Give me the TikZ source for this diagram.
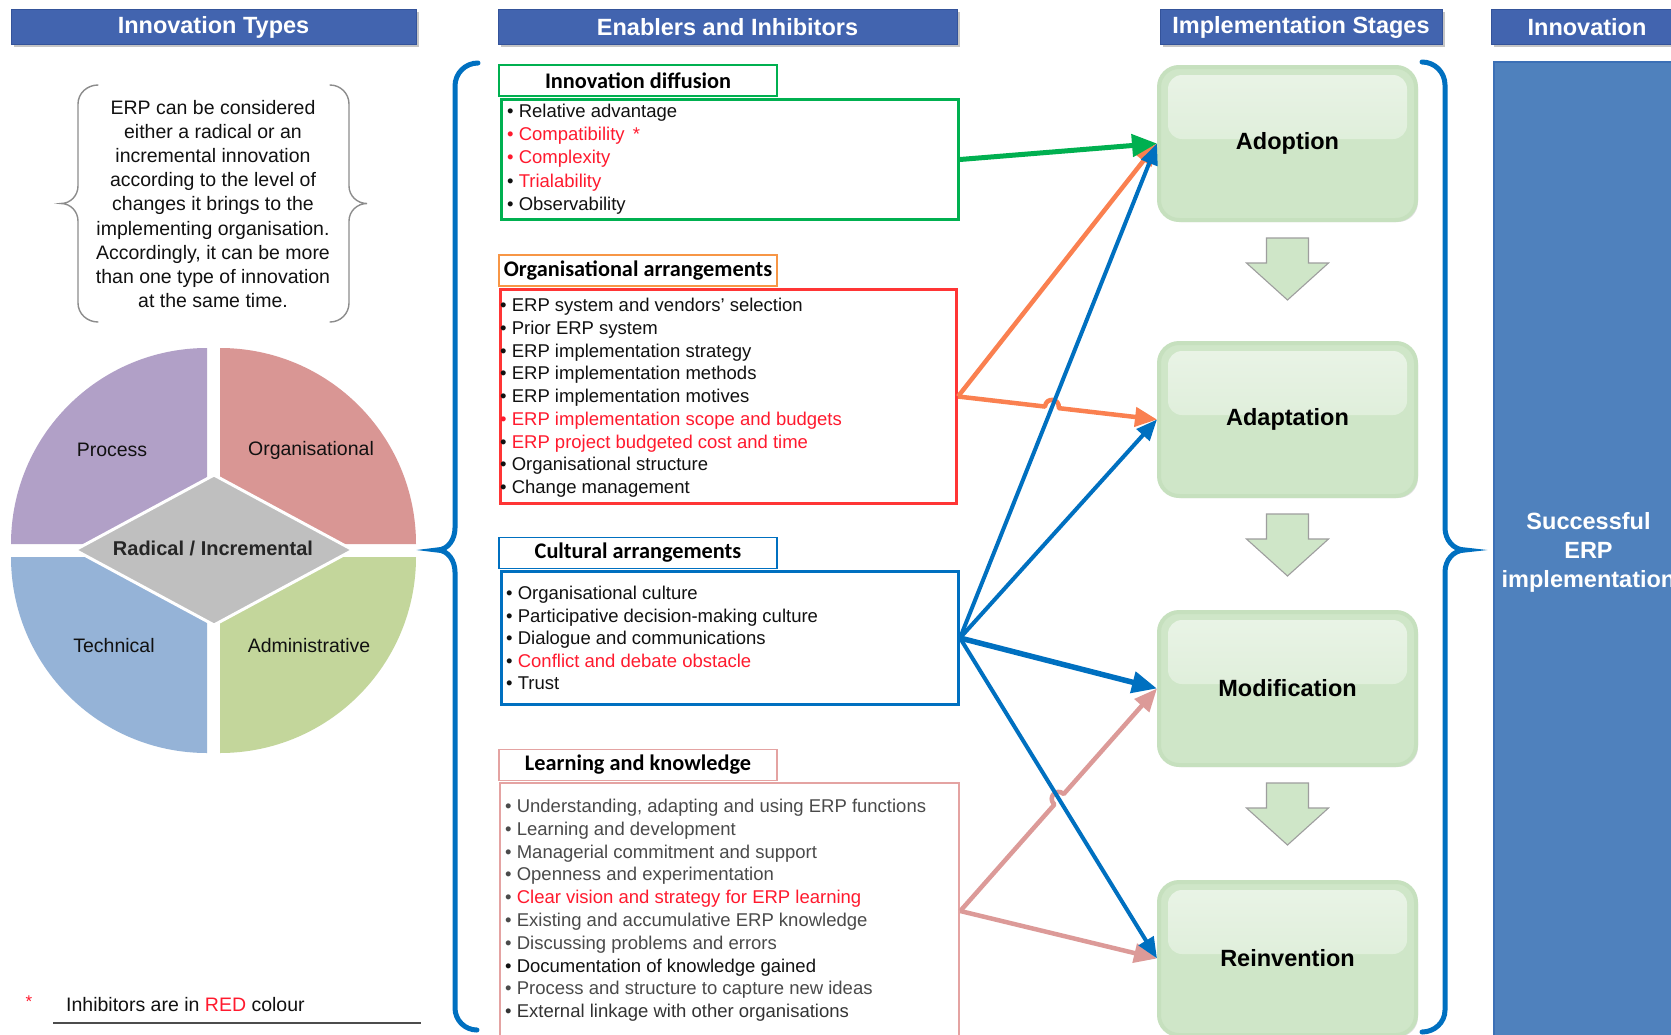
\documentclass[tikz,border=0pt]{standalone}
\usepackage{fontspec}
\setmainfont{Liberation Sans}
\newfontfamily\calfont{Carlito}
\usetikzlibrary{arrows.meta,calc,intersections,shadows}

\definecolor{hdblue}{HTML}{4264AF}
\definecolor{hdborder}{HTML}{34539A}
\definecolor{colblue}{HTML}{4F81BD}
\definecolor{colborder}{HTML}{3C70B6}
\definecolor{idgreen}{HTML}{00B050}
\definecolor{orgorange}{HTML}{F79646}
\definecolor{orgred}{HTML}{FF3535}
\definecolor{culblue}{HTML}{0070C0}
\definecolor{lrnpink}{HTML}{E4A3A2}
\definecolor{arrorange}{HTML}{FA8050}
\definecolor{arrpink}{HTML}{DC9A98}
\definecolor{inhred}{HTML}{FF1A2E}
\definecolor{txtgray}{HTML}{4A4A4A}
\definecolor{txtblack}{HTML}{111111}
\definecolor{stagefill}{HTML}{CFE6C8}
\definecolor{stageedge}{HTML}{C6E0BE}
\definecolor{stagegloss}{HTML}{EAF4E7}
\definecolor{stageglossend}{HTML}{D4E9CE}
\definecolor{pieprocess}{HTML}{B1A0C7}
\definecolor{pieorg}{HTML}{D99694}
\definecolor{pietech}{HTML}{95B3D7}
\definecolor{pieadmin}{HTML}{C3D69B}
\definecolor{piecentre}{HTML}{BFBFBF}

\begin{document}
\begin{tikzpicture}[x=1pt,y=-1pt,
  header/.style={draw=hdborder, line width=1pt, fill=hdblue, text=white,
    font=\fontsize{23.5pt}{28pt}\selectfont\bfseries, minimum height=35pt, inner sep=0pt,
    drop shadow={shadow xshift=2.5pt, shadow yshift=-2.5pt, fill=black!45, opacity=.5}},
  boxtitle/.style={fill=white, minimum width=278pt, minimum height=31pt, inner sep=0pt,
    line width=1.4pt, font=\calfont\bfseries\fontsize{22.3pt}{26pt}\selectfont},
  listbox/.style={line width=3pt, inner sep=0pt, fill=white},
  item/.style={anchor=base west, inner sep=0pt, text=txtblack,
    font=\fontsize{18.5pt}{22pt}\selectfont},
  grayitem/.style={item, text=txtgray},
  pielabel/.style={inner sep=0pt, text=txtblack, font=\fontsize{19.5pt}{23pt}\selectfont},
  stage/.style={rounded corners=20pt, fill=stagefill, draw=stageedge, line width=4pt,
    minimum width=257pt, minimum height=153pt, inner sep=0pt, text=black,
    font=\fontsize{23.5pt}{28pt}\selectfont\bfseries,
    drop shadow={shadow xshift=2pt, shadow yshift=-2pt, fill=black!20, opacity=.6},
    path picture={\shade[top color=stagegloss, bottom color=stageglossend,
      rounded corners=14pt]
      ([xshift=9pt,yshift=-8pt]path picture bounding box.north west) rectangle
      ([xshift=-9pt,yshift=-72pt]path picture bounding box.north east);}},
  blockarrow/.style={fill=stagefill, draw=black!38, line width=1.1pt, line join=miter},
  bigbrace/.style={draw=culblue, line width=5pt, line cap=round},
  greenconn/.style={draw=idgreen, line width=5pt, -{Triangle[length=25pt,width=22pt]}},
  orangeconn/.style={draw=arrorange, line width=4.5pt, line join=round,
    -{Triangle[length=22pt,width=19pt]}},
  blueconn/.style={draw=culblue, line width=4pt, -{Triangle[length=21pt,width=17pt]}},
  bluethick/.style={draw=culblue, line width=5.5pt, -{Triangle[length=25pt,width=21pt]}},
  pinkconn/.style={draw=arrpink, line width=4.5pt, line join=round,
    -{Triangle[length=23pt,width=19pt]}}
]
\useasboundingbox (0,0) rectangle (1671,1034);
\fill[white] (0,0) rectangle (1671,1034);

% ---------- column headers ----------
\node[header, minimum width=405pt] (hdtypes) at (213.5,27) {Innovation Types};
\node[header, minimum width=459pt] (hdenab) at (727.5,27) {Enablers and Inhibitors};
\node[header, minimum width=282pt] (hdstage) at (1301,27) {Implementation Stages};
\node[header, minimum width=192pt] (hdinno) at (1587,27) {Innovation};

% ---------- innovation types: bracketed note ----------
\draw[black!45, line width=1.4pt, line cap=round]
  (98,85) to[out=180,in=90] (78,104) -- (78,186) to[out=-90,in=0] (61,203.5)
  to[out=0,in=90] (78,221) -- (78,303) to[out=-90,in=180] (98,322);
\draw[black!45, line width=1.4pt, line cap=round]
  (330,85) to[out=0,in=90] (349,104) -- (349,186) to[out=-90,in=180] (367,203.5)
  to[out=180,in=90] (349,221) -- (349,303) to[out=-90,in=0] (330,322);
\node[align=center, inner sep=0pt, text=txtblack,
  font=\fontsize{19.5pt}{24.2pt}\selectfont] (note) at (213,204)
  {ERP can be considered\\either a radical or an\\incremental innovation\\according to the level of\\changes it brings to the\\implementing organisation.\\Accordingly, it can be more\\than one type of innovation\\at the same time.};

% ---------- innovation types: quadrant chart ----------
\fill[pieprocess] (207,544) -- (11,544) arc[start angle=180,end angle=90,radius=196pt] -- cycle;
\fill[pieorg] (220,544) -- (220,348) arc[start angle=90,end angle=0,radius=196pt] -- cycle;
\fill[pieadmin] (220,557) -- (416,557) arc[start angle=0,end angle=-90,radius=196pt] -- cycle;
\fill[pietech] (207,557) -- (207,753) arc[start angle=270,end angle=180,radius=196pt] -- cycle;
\filldraw[fill=piecentre, draw=white, line width=3pt]
  (75,550) -- (214,475) -- (353,550) -- (214,625) -- cycle;
\node[pielabel] (process) at (112,450) {Process};
\node[pielabel] (organisational) at (311,450) {Organisational};
\node[pielabel] (technical) at (114,646) {Technical};
\node[pielabel] (administrative) at (309,646) {Administrative};
\node[pielabel, font=\fontsize{20pt}{24pt}\selectfont\bfseries, text=black!85] (radinc)
  at (213,548) {Radical / Incremental};

% ---------- footnote ----------
\node[anchor=base, inner sep=0pt, text=inhred, font=\fontsize{17pt}{20pt}\selectfont] (star)
  at (29,1007) {*};
\node[anchor=base west, inner sep=0pt, text=txtblack, font=\fontsize{19.5pt}{23pt}\selectfont]
  (footnote) at (66,1011) {Inhibitors are in \textcolor{inhred}{RED} colour};
\draw[line width=2pt, black!70] (53,1023) -- (421,1023);

% ---------- enablers and inhibitors: brace ----------
\draw[bigbrace]
  (478,63) to[out=180,in=90] (455,86) -- (455,528) to[out=-90,in=0] (437,550)
  to[out=0,in=90] (455,572) -- (455,1008) to[out=-90,in=180] (477,1030);

% ---------- enablers and inhibitors: boxes ----------
\node[listbox, draw=idgreen, minimum width=457pt, minimum height=120pt] (idbody) at (730,159.5) {};
\node[boxtitle, draw=idgreen] (idtitle) at (638,80.5) {Innovation diffusion};

\node[listbox, draw=orgred, minimum width=456pt, minimum height=214pt] (orgbody) at (728.5,396.5) {};
\node[boxtitle, draw=orgorange] (orgtitle) at (638,270.5) {Organisational arrangements};

\node[listbox, draw=culblue, minimum width=457pt, minimum height=133pt] (culbody) at (730,638) {};
\node[boxtitle, draw=culblue] (cultitle) at (638,553) {Cultural arrangements};

\node[listbox, draw=lrnpink, line width=2.5pt, minimum width=459pt, minimum height=256pt] (lrnbody) at (729.5,911) {};
\node[boxtitle, draw=lrnpink] (lrntitle) at (638,765) {Learning and knowledge};

\foreach \txt [count=\i] in {
  {• Relative advantage},
  {\color{inhred}• Compatibility \,*},
  {\color{inhred}• Complexity},
  {• \textcolor{inhred}{Trialability}},
  {• Observability}}
  \node[item] (id-\i) at (507,{117.5+23.2*(\i-1)}) {\txt};

\foreach \txt [count=\i] in {
  {• ERP system and vendors' selection},
  {• Prior ERP system},
  {• ERP implementation strategy},
  {• ERP implementation methods},
  {• ERP implementation motives},
  {\color{inhred}• ERP implementation scope and budgets},
  {• \textcolor{inhred}{ERP project budgeted cost and time}},
  {• Organisational structure},
  {• Change management}}
  \node[item] (org-\i) at (500,{311.5+22.75*(\i-1)}) {\txt};

\foreach \txt [count=\i] in {
  {• Organisational culture},
  {• Participative decision-making culture},
  {• Dialogue and communications},
  {• \textcolor{inhred}{Conflict and debate obstacle}},
  {• Trust}}
  \node[item] (cul-\i) at (506,{599.5+22.5*(\i-1)}) {\txt};

\foreach \txt [count=\i] in {
  {• Understanding, adapting and using ERP functions},
  {• Learning and development},
  {• Managerial commitment and support},
  {• Openness and experimentation},
  {• \textcolor{inhred}{Clear vision and strategy for ERP learning}},
  {• Existing and accumulative ERP knowledge},
  {• Discussing problems and errors},
  {\color{txtblack}• Documentation of knowledge gained},
  {• Process and structure to capture new ideas},
  {\color{black!80}• External linkage with other organisations}}
  \node[grayitem] (lrn-\i) at (505,{812.5+22.8*(\i-1)}) {\txt};

% ---------- implementation stages ----------
\node[stage] (adopt) at (1287.5,143.5) {Adoption};
\node[stage] (adapt) at (1287.5,419.5) {Adaptation};
\node[stage] (modif) at (1287.5,688.5) {Modification};
\node[stage] (reinv) at (1287.5,958.5) {Reinvention};

\foreach \s in {adopt,adapt,modif}
  \filldraw[blockarrow]
    ($(\s.south)+(-21,16)$) -- ($(\s.south)+(21,16)$) -- ($(\s.south)+(21,41)$)
    -- ($(\s.south)+(41,41)$) -- ($(\s.south)+(0,78)$) -- ($(\s.south)+(-41,41)$)
    -- ($(\s.south)+(-21,41)$) -- cycle;

\draw[bigbrace]
  (1422,62) to[out=0,in=90] (1445,85) -- (1445,528) to[out=-90,in=180] (1465,550)
  to[out=180,in=90] (1445,572) -- (1445,1010) to[out=-90,in=0] (1422,1032);

% ---------- innovation outcome ----------
\node[fill=colblue, draw=colborder, line width=1.5pt, minimum width=189pt, minimum height=980pt,
  inner sep=0pt] (success) at (1588.5,552) {};
\node[align=center, inner sep=0pt, text=white, font=\fontsize{23.5pt}{29pt}\selectfont\bfseries]
  (successtext) at (success.center) {Successful\\ERP\\implementation};

% ---------- connectors ----------
\path[name path=pCA] (culbody.east) -- (adopt.west);
\path[name path=pOA] (orgbody.east) -- (adapt.west);
\path[name path=pCR] (culbody.east) -- (reinv.west);
\path[name path=pLM] (lrnbody.east) -- (modif.west);
\path[name intersections={of=pCA and pOA, by=xOA}];
\path[name intersections={of=pCR and pLM, by=xLM}];
\coordinate (hopOa) at ($(xOA)!7pt!(orgbody.east)$);
\coordinate (hopOb) at ($(xOA)!7pt!(adapt.west)$);
\coordinate (hopLa) at ($(xLM)!7pt!(lrnbody.east)$);
\coordinate (hopLb) at ($(xLM)!7pt!(modif.west)$);

\draw[pinkconn] (lrnbody.east) -- (reinv.west);
\draw[pinkconn] (lrnbody.east) -- (hopLa)
  .. controls ($(hopLa)!10pt!90:(xLM)$) and ($(hopLb)!10pt!-90:(xLM)$) .. (hopLb)
  -- (modif.west);
\draw[orangeconn] (orgbody.east) -- (adopt.west);
\draw[orangeconn] (orgbody.east) -- (hopOa)
  .. controls ($(hopOa)!10pt!90:(xOA)$) and ($(hopOb)!10pt!-90:(xOA)$) .. (hopOb)
  -- (adapt.west);
\draw[blueconn] (culbody.east) -- (reinv.west);
\draw[bluethick] (culbody.east) -- (modif.west);
\draw[blueconn] (culbody.east) -- (adapt.west);
\draw[blueconn] (culbody.east) -- (adopt.west);
\draw[greenconn] (idbody.east) -- (adopt.west);
\end{tikzpicture}
\end{document}
